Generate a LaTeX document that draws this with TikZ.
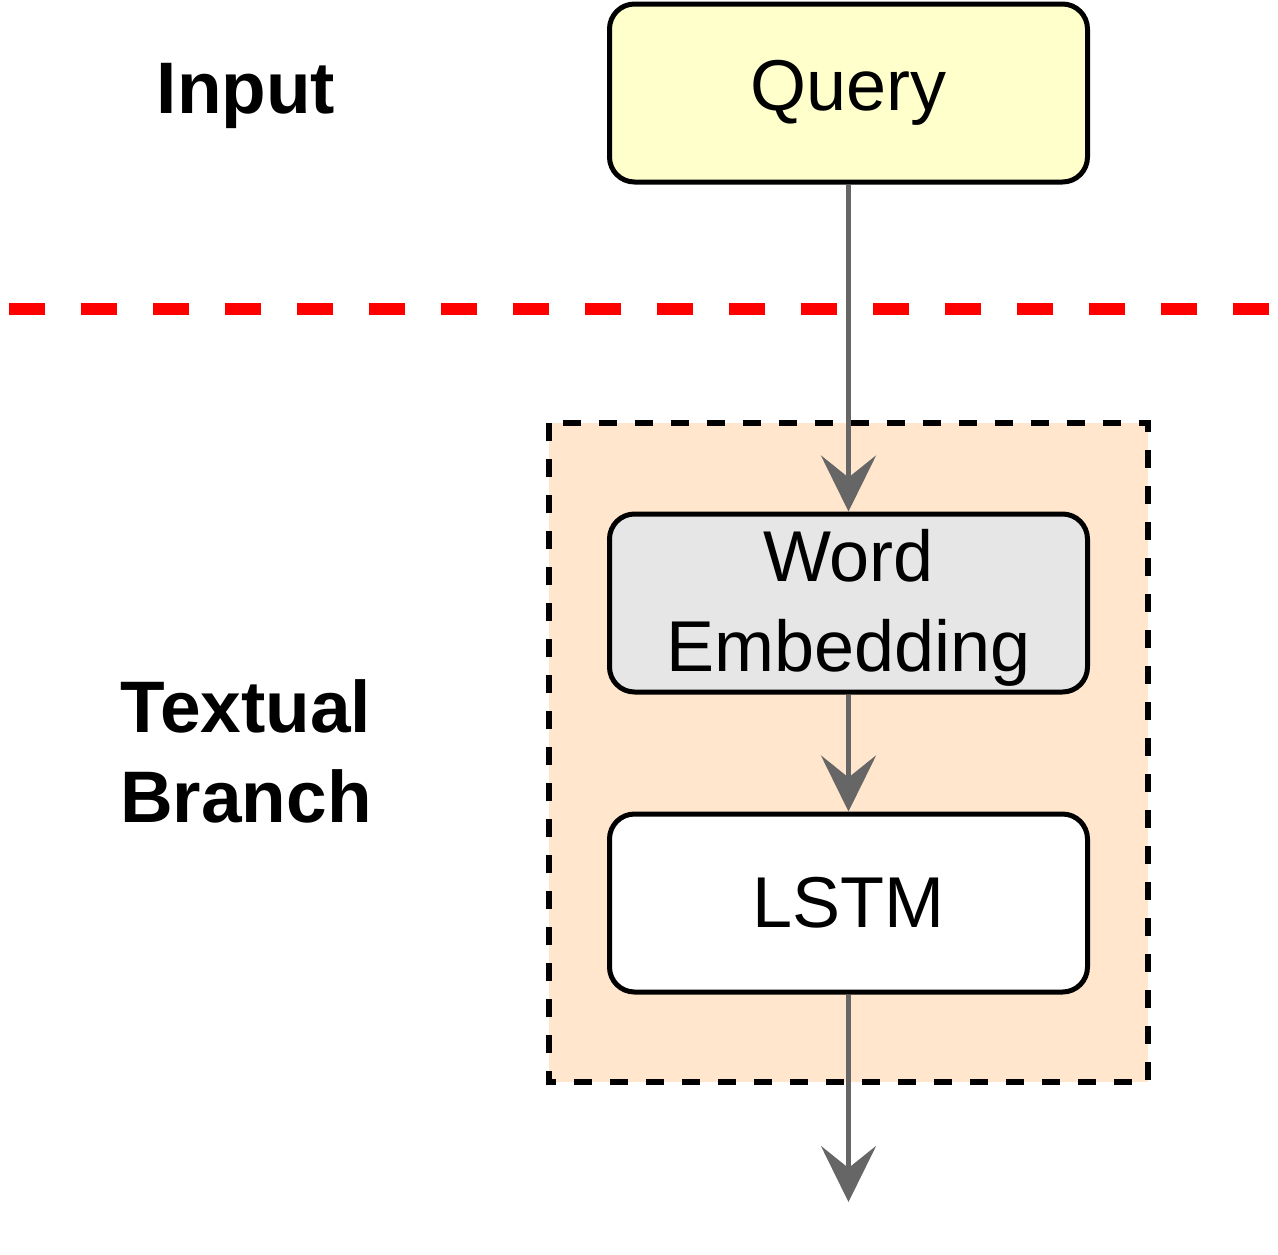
\documentclass[tikz,border=0pt]{standalone}
\usepackage{fontspec}
\setmainfont{Liberation Sans}
\usetikzlibrary{arrows.meta}

\definecolor{queryfill}{HTML}{FFFFCC}
\definecolor{embfill}{HTML}{E6E6E6}
\definecolor{branchfill}{HTML}{FFE6CC}
\definecolor{flowgray}{HTML}{666666}

\tikzset{
  block/.style={draw=black, line width=5pt, rounded corners=25pt, minimum width=478pt, minimum height=178pt, inner sep=0pt, align=center, font=\fontsize{72}{90}\selectfont},
  flow/.style={draw=flowgray, line width=5pt, -{Stealth[length=56pt, width=55pt, inset=22pt, flowgray]}},
  caption/.style={align=center, inner sep=0pt, font=\fontsize{73}{90}\selectfont\bfseries}
}

\begin{document}
\begin{tikzpicture}[x=1pt, y=-1pt]

\useasboundingbox (0, 0) rectangle (1278, 1254);

% branch area
\draw[fill=branchfill, line width=6pt, dash pattern=on 18pt off 18pt] (549, 423) rectangle (1148, 1082);

% separator
\draw[red, line width=12pt, dash pattern=on 36pt off 36pt] (9, 309) -- (1275, 309);

\node[block, fill=queryfill] (query) at (848.5, 93) {Query};
\node[block, fill=embfill, text height=152pt] (emb) at (848.5, 603) {Word\\Embedding};
\node[block, fill=white] (lstm) at (848.5, 903) {LSTM};
\coordinate (out) at (848.5, 1202);

\node[caption] (input) at (246, 96) {Input};
\node[caption] (textual) at (246, 751) {Textual\\Branch};

\draw[flow] (query) -- (emb);
\draw[flow] (emb) -- (lstm);
\draw[flow] (lstm) -- (out);

\end{tikzpicture}
\end{document}
